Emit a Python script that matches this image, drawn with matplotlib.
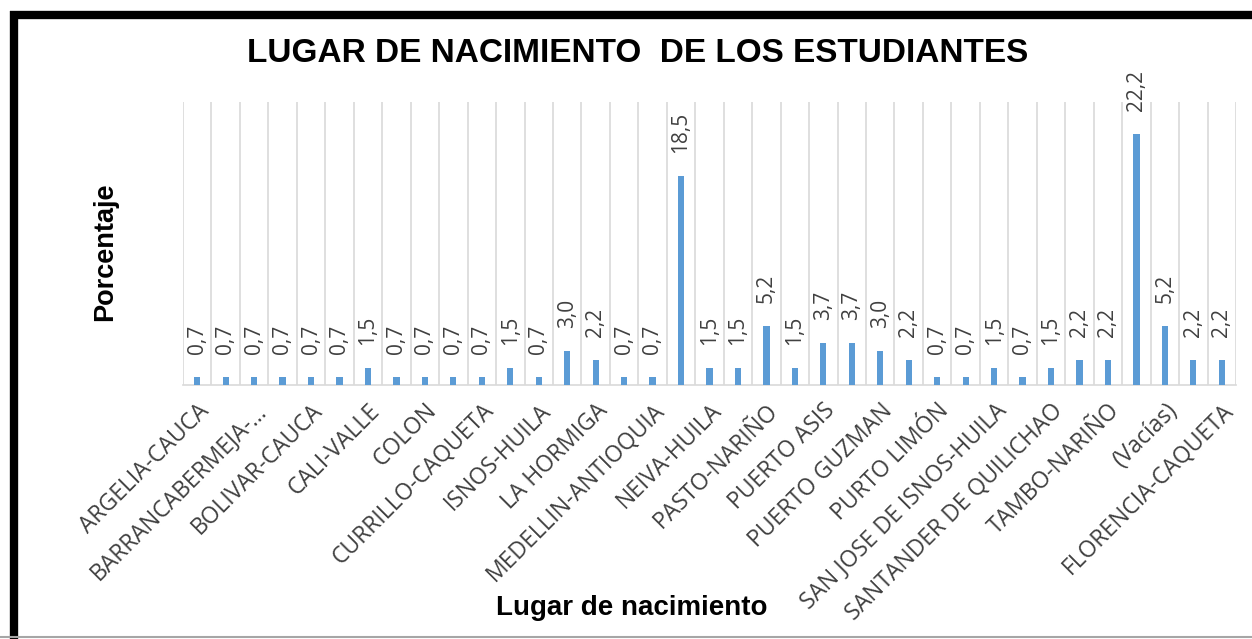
import matplotlib
matplotlib.use("Agg")
from matplotlib import pyplot as plt
from matplotlib.lines import Line2D
import numpy as np

# porcentaje por lugar de nacimiento (37 categorias, solo se rotulan las pares)
valores = [0.7, 0.7, 0.7, 0.7, 0.7, 0.7, 1.5, 0.7, 0.7, 0.7, 0.7, 1.5, 0.7,
           3.0, 2.2, 0.7, 0.7, 18.5, 1.5, 1.5, 5.2, 1.5, 3.7, 3.7, 3.0, 2.2,
           0.7, 0.7, 1.5, 0.7, 1.5, 2.2, 2.2, 22.2, 5.2, 2.2, 2.2]
etiquetas = ['ARGELIA-CAUCA', 'BARRANCABERMEJA-...', 'BOLIVAR-CAUCA', 'CALI-VALLE',
             'COLON', 'CURRILLO-CAQUETA', 'ISNOS-HUILA', 'LA HORMIGA',
             'MEDELLIN-ANTIOQUIA', 'NEIVA-HUILA', 'PASTO-NARIÑO', 'PUERTO ASIS',
             'PUERTO GUZMAN', 'PURTO LIMÓN', 'SAN JOSE DE ISNOS-HUILA',
             'SANTANDER DE QUILICHAO', 'TAMBO-NARIÑO', '(Vacías)', 'FLORENCIA-CAQUETA']

azul = '#5b9bd5'
gris = '#404040'

fig = plt.figure(figsize=(12.52, 6.39), dpi=100)
ax = fig.add_axes([183 / 1252, 1 - 385 / 639, (1236 - 183) / 1252, (385 - 102) / 639])

x = np.arange(len(valores))
ax.bar(x, valores, width=0.22, color=azul, zorder=3)
for xi, v in zip(x, valores):
    ax.annotate(f'{v:.1f}'.replace('.', ','), xy=(xi, v), xytext=(0, 16.5),
                textcoords='offset points', rotation=90, ha='center', va='bottom',
                fontsize=15, color=gris, family='Open Sans')

ax.set_xlim(-0.5, len(valores) - 0.5)
ax.set_ylim(0, 25)
ax.set_yticks([])
ax.set_xticks(x[::2])
ax.set_xticklabels(etiquetas, rotation=45, ha='right', rotation_mode='anchor',
                   fontsize=16.5, color=gris, family='Open Sans')
ax.tick_params(axis='x', length=0, pad=10)
ax.set_xticks(np.arange(-0.5, len(valores)), minor=True)
ax.tick_params(axis='x', which='minor', length=0)
ax.grid(True, which='minor', axis='x', color='#d9d9d9', linewidth=1.2, zorder=0)
for s in ['top', 'right', 'left']:
    ax.spines[s].set_visible(False)
ax.spines['bottom'].set_color('#d9d9d9')
ax.spines['bottom'].set_linewidth(1.2)

fig.text(638 / 1252, 1 - 53 / 639, 'LUGAR DE NACIMIENTO  DE LOS ESTUDIANTES',
         ha='center', va='center', fontsize=24, fontweight='bold',
         family='Liberation Sans', color='black')
fig.text(105 / 1252, 1 - 252 / 639, 'Porcentaje', rotation=90, ha='center', va='center',
         fontsize=19.5, fontweight='bold', family='Liberation Sans', color='black')
fig.text(632 / 1252, 1 - 608 / 639, 'Lugar de nacimiento', ha='center', va='center',
         fontsize=20, fontweight='bold', family='Liberation Sans', color='black')

# marco de la captura
fig.add_artist(Line2D([14 / 1252, 14 / 1252], [0, 1 - 11 / 639], color='black',
                      linewidth=6, solid_capstyle='butt'))
fig.add_artist(Line2D([10 / 1252, 1], [1 - 15 / 639, 1 - 15 / 639], color='black',
                      linewidth=6, solid_capstyle='butt'))
fig.add_artist(Line2D([0, 1], [1 - 637 / 639, 1 - 637 / 639], color='#a6a6a6',
                      linewidth=1.5))

fig.savefig('out.png', dpi=100)
